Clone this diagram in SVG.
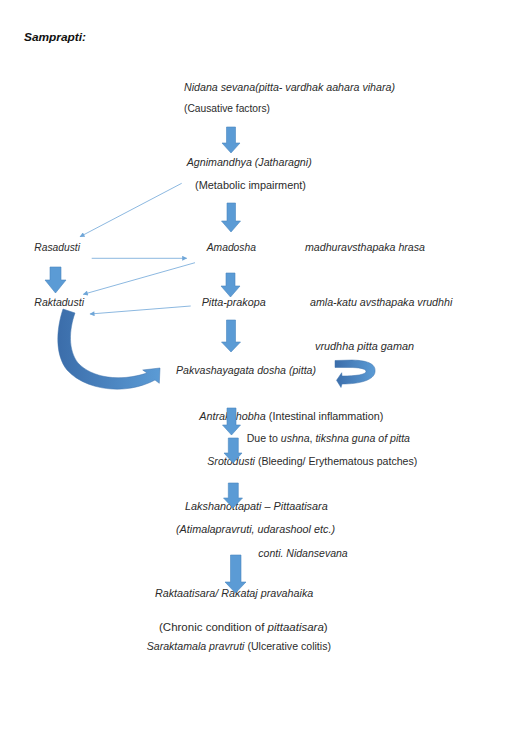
<svg xmlns="http://www.w3.org/2000/svg" width="513" height="735" viewBox="0 0 513 735">
<defs>
<style>
text{font-family:"Liberation Sans",Arial,sans-serif;font-size:10px;fill:#2b2b2b}
.i{font-style:italic}
.n{font-style:normal}
.t{font-weight:bold;font-style:italic;font-size:11px;fill:#111}
.blk{fill:#5b9bd5;stroke:#4a86c0;stroke-width:0.6}
.thin{stroke:#6fa6d8;stroke-width:0.8;fill:none;marker-end:url(#ah)}
.crv{fill:url(#g1);stroke:#3e72ad;stroke-width:0.5}
</style>
<marker id="ah" viewBox="0 0 10 10" refX="9" refY="5" markerWidth="6" markerHeight="5" markerUnits="userSpaceOnUse" orient="auto">
<path d="M0,0 L10,5 L0,10 Z" fill="#6fa6d8"/>
</marker>
<linearGradient id="g1" x1="0" y1="0" x2="1" y2="0">
<stop offset="0" stop-color="#3b6daa"/>
<stop offset="1" stop-color="#5b9bd5"/>
</linearGradient>
</defs>
<rect width="513" height="735" fill="#fff"/>
<g id="title"><text class="t" x="24" y="41" textLength="62" lengthAdjust="spacingAndGlyphs">Samprapti:</text></g>
<g id="nidana">
<text class="i" x="184" y="91" textLength="211" lengthAdjust="spacingAndGlyphs">Nidana sevana(pitta- vardhak aahara vihara)</text>
<text x="184" y="112" textLength="86" lengthAdjust="spacingAndGlyphs">(Causative factors)</text>
</g>
<g id="agnimandhya">
<text class="i" x="186.7" y="166" textLength="125" lengthAdjust="spacingAndGlyphs">Agnimandhya (Jatharagni)</text>
<text x="195" y="188.5" textLength="111" lengthAdjust="spacingAndGlyphs">(Metabolic impairment)</text>
</g>
<g id="rasadusti"><text class="i" x="34.3" y="251" textLength="45.7" lengthAdjust="spacingAndGlyphs">Rasadusti</text></g>
<g id="amadosha"><text class="i" x="206.7" y="251" textLength="49.3" lengthAdjust="spacingAndGlyphs">Amadosha</text></g>
<g id="madhura"><text class="i" x="305" y="251" textLength="120" lengthAdjust="spacingAndGlyphs">madhuravsthapaka hrasa</text></g>
<g id="raktadusti"><text class="i" x="34.3" y="306" textLength="49.7" lengthAdjust="spacingAndGlyphs">Raktadusti</text></g>
<g id="pittaprakopa"><text class="i" x="201.7" y="306" textLength="64" lengthAdjust="spacingAndGlyphs">Pitta-prakopa</text></g>
<g id="amla"><text class="i" x="310" y="306" textLength="142.3" lengthAdjust="spacingAndGlyphs">amla-katu avsthapaka vrudhhi</text></g>
<g id="vrudhha"><text class="i" x="315" y="350" textLength="99" lengthAdjust="spacingAndGlyphs">vrudhha pitta gaman</text></g>
<g id="pakvashaya"><text class="i" x="176" y="373.5" textLength="140" lengthAdjust="spacingAndGlyphs">Pakvashayagata dosha (pitta)</text></g>
<g id="antrakshobha"><text x="199.3" y="420" textLength="184" lengthAdjust="spacingAndGlyphs"><tspan class="i">Antrakshobha</tspan> (Intestinal inflammation)</text></g>
<g id="dueto"><text x="246.7" y="441.7" textLength="163.3" lengthAdjust="spacingAndGlyphs">Due to <tspan class="i">ushna</tspan>, <tspan class="i">tikshna guna of pitta</tspan></text></g>
<g id="srotodusti"><text x="207.3" y="465" textLength="210" lengthAdjust="spacingAndGlyphs"><tspan class="i">Srotodusti</tspan> (Bleeding/ Erythematous patches)</text></g>
<g id="lakshana">
<text class="i" x="185" y="510" textLength="142.7" lengthAdjust="spacingAndGlyphs">Lakshanottapati – Pittaatisara</text>
<text class="i" x="176" y="533.3" textLength="159" lengthAdjust="spacingAndGlyphs">(Atimalapravruti, udarashool etc.)</text>
</g>
<g id="conti"><text class="i" x="258.3" y="557.3" textLength="89.4" lengthAdjust="spacingAndGlyphs">conti. Nidansevana</text></g>
<g id="raktaatisara">
<text class="i" x="155" y="597.3" textLength="158.3" lengthAdjust="spacingAndGlyphs">Raktaatisara/ Rakataj pravahaika</text>
<text x="159" y="630.7" textLength="168.7" lengthAdjust="spacingAndGlyphs">(Chronic condition of <tspan class="i">pittaatisara</tspan>)</text>
<text x="146.7" y="650" textLength="184.3" lengthAdjust="spacingAndGlyphs"><tspan class="i">Saraktamala pravruti</tspan> (Ulcerative colitis)</text>
</g>
<g id="connectors">
<path class="blk" d="M226.5,127 H235.5 V143 H240 L231,153 L222,143 H226.5 Z"/>
<path class="blk" d="M227,203 H235.5 V221 H240.5 L231,232 L221.5,221 H227 Z"/>
<path class="blk" d="M50,267 H61 V280 H66 L55.5,293 L45,280 H50 Z"/>
<path class="blk" d="M226,273 H235 V286 H240 L230.5,297 L221,286 H226 Z"/>
<path class="blk" d="M226.5,320 H235.5 V342 H240.5 L231,352 L221.5,342 H226.5 Z"/>
<path class="blk" d="M227,408 H236 V425 H240.5 L231.5,435 L222.5,425 H227 Z"/>
<path class="blk" d="M228.3,438 H238.3 V453 H242 L233,463 L224,453 H228.3 Z"/>
<path class="blk" d="M228.3,483 H238.3 V498 H242.5 L233,508 L223.5,498 H228.3 Z"/>
<path class="blk" d="M230.5,555 H241 V582 H246 L235.5,593 L225,582 H230.5 Z"/>
<line class="thin" x1="181.7" y1="183.3" x2="80" y2="236.7"/>
<line class="thin" x1="91.7" y1="258.3" x2="186.7" y2="258.3"/>
<line class="thin" x1="195" y1="262.7" x2="83.3" y2="294.3"/>
<line class="thin" x1="190.7" y1="306" x2="90" y2="314"/>
<path class="crv" d="M63,309 L75,313 C69,330 68,350 78,363 C92,378 120,382 147,373 L142.7,370 L160,368 L159.3,383.3 L155,380 C125,396 85,390 67,370 C55,355 56,330 63,309 Z"/>
<path class="crv" d="M335,360.5 L352,360 C370,360.5 376,365 375,372 C374,380 360,384 342,384 L341,387.5 L336.5,380.3 L341.7,372.7 L342,376 C356,376 366,374.5 366,371.5 C366,368.5 358,367.5 350,367.5 L335,367.5 Z"/>
</g>
</svg>
